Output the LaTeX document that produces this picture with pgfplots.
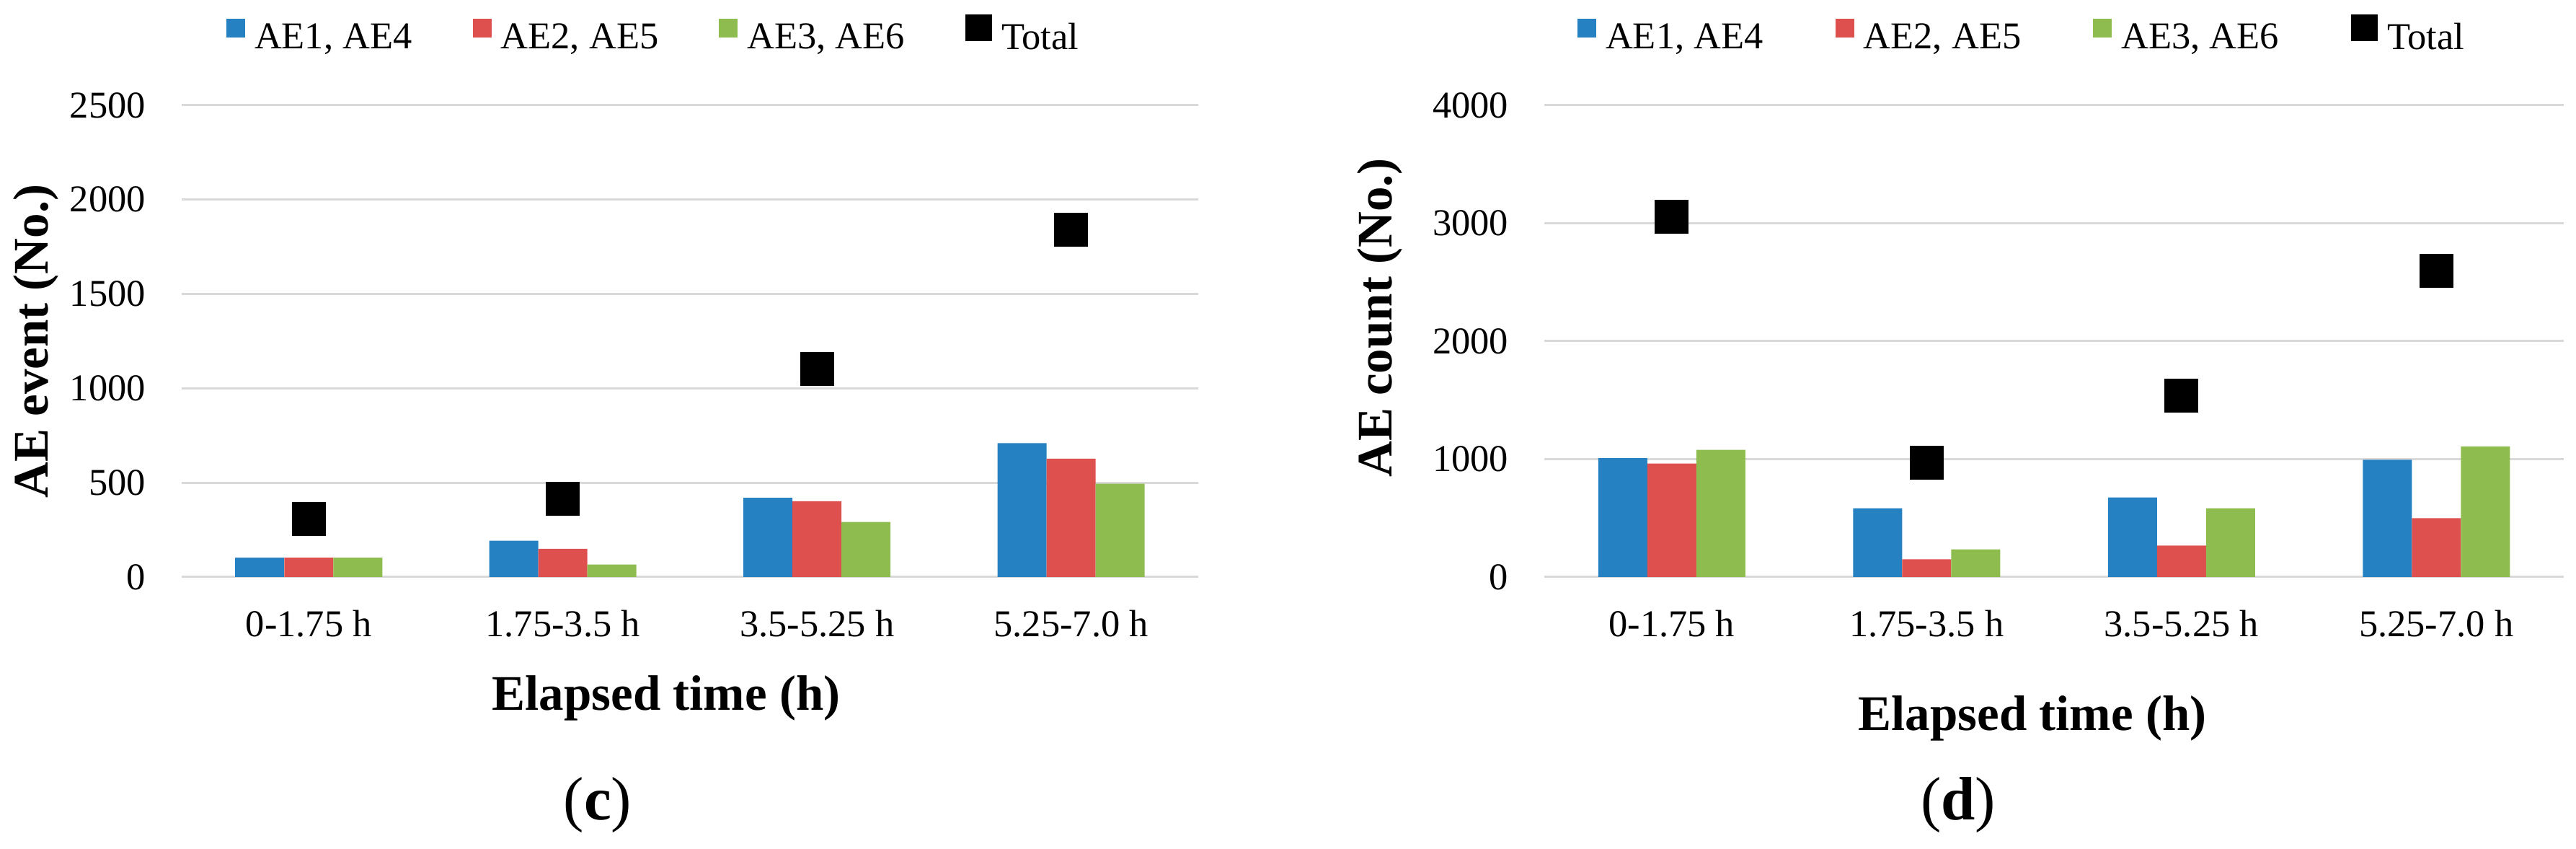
\documentclass[border=0pt]{standalone}
\usepackage{fontspec}
\setmainfont{Liberation Serif}
\newfontfamily\tickfont{Liberation Serif}
\usepackage{pgfplots}
\pgfplotsset{compat=1.18}
\definecolor{aeblue}{HTML}{2581C2}
\definecolor{aered}{HTML}{DE504E}
\definecolor{aegreen}{HTML}{8EBC4F}
\definecolor{gridgray}{HTML}{D9D9D9}
\pgfplotsset{
 aestyle/.style={
  scale only axis, width=282pt, height=130.8pt,
  xmin=-0.5, xmax=3.5, ymin=0,
  xtick={0,1,2,3}, xticklabels={0-1.75 h, 1.75-3.5 h, 3.5-5.25 h, 5.25-7.0 h},
  axis line style={draw=none}, major tick length=0pt,
  ymajorgrids, grid style={draw=gridgray, line width=0.6pt},
  /pgf/number format/assume math mode=true,
  /pgf/number format/1000 sep={},
  scaled y ticks=false,
  every tick label/.append style={font=\tickfont\fontsize{10.5}{12}\selectfont},
  yticklabel style={inner xsep=0pt, xshift=-9.8pt},
  xticklabel style={inner ysep=0pt, yshift=-9pt},
  label style={font=\rmfamily\fontsize{13.8}{16}\selectfont\bfseries},
  legend columns=4,
  legend style={draw=none, fill=none, inner sep=0pt, outer sep=0pt, anchor=west,
    font=\rmfamily\fontsize{10.5}{12}\selectfont, nodes={inner xsep=2.6pt, inner ysep=0pt}},
  clip=false,
 },
 barA/.style={ybar, bar width=13.6pt, bar shift=-13.6pt, fill=aeblue, draw=none,
   legend image code/.code={\fill[aeblue] (0pt,0.4pt) rectangle (5.2pt,5.6pt);}},
 barB/.style={ybar, bar width=13.6pt, bar shift=0pt, fill=aered, draw=none,
   legend image code/.code={\fill[aered] (0pt,0.4pt) rectangle (5.2pt,5.6pt);}},
 barC/.style={ybar, bar width=13.6pt, bar shift=13.6pt, fill=aegreen, draw=none,
   legend image code/.code={\fill[aegreen] (0pt,0.4pt) rectangle (5.2pt,5.6pt);}},
 tot/.style={only marks, mark=square*, mark size=4.5pt, mark options={fill=black, draw=black}, black,
   legend image code/.code={\fill[black] (0pt,-0.5pt) rectangle (7pt,6.5pt);}},
}
\begin{document}
\begin{tikzpicture}
\path[use as bounding box] (0,0) rectangle (714.6pt,235.4pt);
\begin{axis}[aestyle, at={(50.4pt,75.4pt)}, anchor=south west,
  ymax=2500, ytick={0,500,1000,1500,2000,2500},
  yticklabels={0,500,1000,1500,2000,2500},
  ylabel={AE event (No.)}, xlabel={Elapsed time (h)},
  xlabel style={at={(axis description cs:0.4766,-0.28287)}, anchor=base},
  ylabel style={at={(axis description cs:-0.14326,0.5)}, anchor=center},
  legend style={at={(axis description cs:0.04397,1.14985)},
    /tikz/every even column/.append style={column sep=14.2pt}}]
\addplot[barA] coordinates {(0,103) (1,193) (2,420) (3,710)};
\addlegendentry{AE1, AE4}
\addplot[barB] coordinates {(0,103) (1,150) (2,402) (3,627)};
\addlegendentry{AE2, AE5}
\addplot[barC] coordinates {(0,103) (1,66) (2,292) (3,495)};
\addlegendentry{AE3, AE6}
\addplot[tot] coordinates {(0,306) (1,414) (2,1104) (3,1839)};
\addlegendentry{Total}
\end{axis}
\begin{axis}[aestyle, width=282.8pt, at={(428.4pt,75.4pt)}, anchor=south west,
  ymax=4000, ytick={0,1000,2000,3000,4000},
  yticklabels={0,1000,2000,3000,4000},
  ylabel={AE count (No.)}, xlabel={Elapsed time (h)},
  xlabel style={at={(axis description cs:0.4788,-0.32569)}, anchor=base},
  ylabel style={at={(axis description cs:-0.16124,0.55)}, anchor=center},
  legend style={at={(axis description cs:0.03253,1.14985)},
    /tikz/every even column/.append style={column sep=17.4pt}}]
\addplot[barA] coordinates {(0,1009) (1,583) (2,675) (3,995)};
\addlegendentry{AE1, AE4}
\addplot[barB] coordinates {(0,963) (1,151) (2,267) (3,499)};
\addlegendentry{AE2, AE5}
\addplot[barC] coordinates {(0,1079) (1,235) (2,583) (3,1107)};
\addlegendentry{AE3, AE6}
\addplot[tot] coordinates {(0,3058) (1,970) (2,1536) (3,2594)};
\addlegendentry{Total}
\end{axis}
\node[anchor=base, font=\rmfamily\fontsize{17}{20}\selectfont] at (165.8pt,8pt) {(\textbf{c})};
\node[anchor=base, font=\rmfamily\fontsize{17}{20}\selectfont] at (543.2pt,8pt) {(\textbf{d})};
\end{tikzpicture}
\end{document}
